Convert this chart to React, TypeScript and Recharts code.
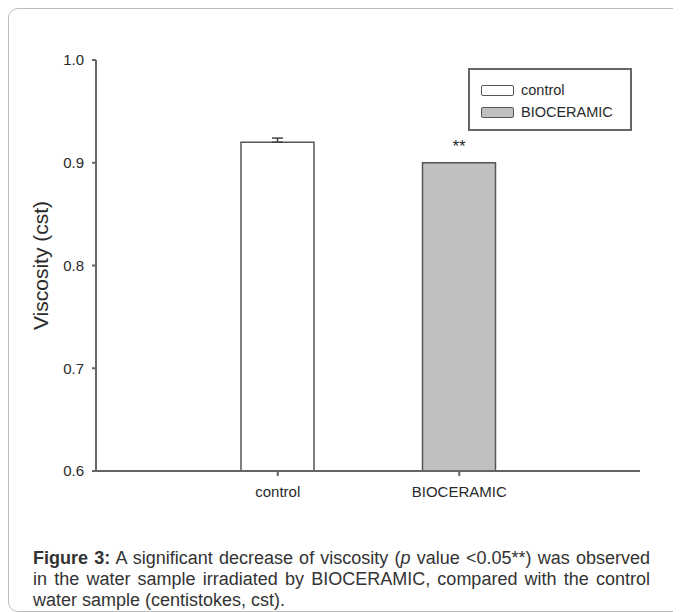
import React from 'react';
import { BarChart, Bar, XAxis, YAxis, ErrorBar, Cell, LabelList, Legend } from 'recharts';

const categories = ['control', 'BIOCERAMIC'];
const viscosity = [0.92, 0.9];
const errorUpper = [0.004, null];
const significance = ['', '**'];
const yTicks = [0.6, 0.7, 0.8, 0.9, 1.0];
const barFills = ['#ffffff', '#c0c0c0'];

const data = categories.map((name, i) => ({
  name,
  value: viscosity[i],
  err: errorUpper[i] == null ? null : [0, errorUpper[i]],
  sig: significance[i],
}));

const FONT = '"Liberation Sans", Arial, sans-serif';
const AXIS = '#666';
const TEXT = '#2a2a2a';

const renderLegend = () => (
  <div
    style={{
      position: 'absolute',
      left: 0,
      top: 0,
      width: 160,
      height: 59,
      border: '2px solid #666',
      boxSizing: 'content-box',
      fontFamily: FONT,
      fontSize: 14.5,
      color: TEXT,
    }}
  >
    {categories.map((c, i) => (
      <div key={c} style={{ position: 'absolute', left: 11, top: 12 + i * 22, height: 16, display: 'flex', alignItems: 'center' }}>
        <div style={{ width: 31, height: 9, border: '1.5px solid #555', background: barFills[i], borderRadius: 2 }} />
        <span style={{ marginLeft: 7, lineHeight: '16px' }}>{c}</span>
      </div>
    ))}
  </div>
);

const renderSig = (props: any) => {
  const { x, y, width, value } = props;
  if (!value) return null;
  return (
    <text x={x + width / 2} y={y - 11} textAnchor="middle" fontFamily={FONT} fontSize={17} fill={TEXT}>
      {value}
    </text>
  );
};

const renderYLabel = (props: any) => {
  const vb = props.viewBox || {};
  const cx = 32;
  const cy = vb.y + vb.height / 2;
  return (
    <text x={cx} y={cy} transform={`rotate(-90 ${cx} ${cy})`} textAnchor="middle" dominantBaseline="central" fontFamily={FONT} fontSize={21} fill={TEXT}>
      Viscosity (cst)
    </text>
  );
};

const captionLine: React.CSSProperties = {
  textAlign: 'justify',
  textAlignLast: 'justify',
  whiteSpace: 'nowrap',
  height: 21,
  lineHeight: '21px',
};

export default function App() {
  return (
    <div style={{ position: 'relative', width: 673, height: 604 }}>
      <div
        style={{
          position: 'absolute',
          left: 0,
          top: 0,
          width: 700,
          height: 604,
          border: '1px solid #bdbdbd',
          borderRadius: 10,
          boxSizing: 'border-box',
        }}
      />
      <div style={{ position: 'absolute', left: 0, top: 0 }}>
        <BarChart
          width={665}
          height={520}
          data={data}
          margin={{ top: 52, right: 33, bottom: 27, left: 28 }}
          barCategoryGap={0}
        >
          <XAxis
            dataKey="name"
            padding={{ left: 91, right: 90 }}
            height={30}
            tickSize={5}
            tickMargin={10}
            axisLine={{ stroke: AXIS, strokeWidth: 2 }}
            tickLine={{ stroke: AXIS, strokeWidth: 2 }}
            tick={{ fontFamily: FONT, fontSize: 15, fill: TEXT }}
          />
          <XAxis
            xAxisId="top"
            orientation="top"
            dataKey="name"
            padding={{ left: 91, right: 90 }}
            height={0}
            tick={false}
            tickLine={false}
            axisLine={{ stroke: AXIS, strokeWidth: 2 }}
          />
          <YAxis
            domain={[0.6, 1.0]}
            ticks={yTicks}
            allowDataOverflow
            width={60}
            tickSize={4}
            tickMargin={8}
            tickFormatter={(v: number) => v.toFixed(1)}
            axisLine={{ stroke: AXIS, strokeWidth: 2 }}
            tickLine={{ stroke: AXIS, strokeWidth: 2 }}
            tick={{ fontFamily: FONT, fontSize: 15, fill: TEXT }}
            label={renderYLabel}
          />
          <YAxis
            yAxisId="right"
            orientation="right"
            domain={[0.6, 1.0]}
            width={0}
            tick={false}
            tickLine={false}
            axisLine={{ stroke: AXIS, strokeWidth: 2 }}
          />
          <Legend
            content={renderLegend}
            wrapperStyle={{ position: 'absolute', left: 460, top: 60, width: 0, height: 0, overflow: 'visible' }}
          />
          <Bar dataKey="value" barSize={73} stroke="#555" strokeWidth={1.5} isAnimationActive={false}>
            {data.map((d, i) => (
              <Cell key={d.name} fill={barFills[i]} />
            ))}
            <ErrorBar dataKey="err" width={5.5} stroke="#444" strokeWidth={1.5} direction="y" />
            <LabelList dataKey="sig" content={renderSig} />
          </Bar>
        </BarChart>
      </div>
      <div
        style={{
          position: 'absolute',
          left: 25,
          top: 540,
          width: 617,
          fontFamily: FONT,
          fontSize: 18,
          color: '#333',
        }}
      >
        <div style={captionLine}>
          <b>Figure 3:</b> A significant decrease of viscosity (<i>p</i> value &lt;0.05**) was observed
        </div>
        <div style={captionLine}>
          in the water sample irradiated by BIOCERAMIC, compared with the control
        </div>
        <div style={{ ...captionLine, textAlignLast: 'left' }}>water sample (centistokes, cst).</div>
      </div>
    </div>
  );
}
